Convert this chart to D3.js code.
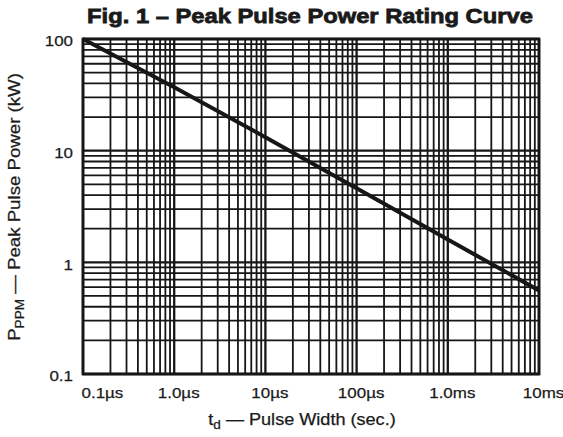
<!DOCTYPE html>
<html>
<head>
<meta charset="utf-8">
<script src="https://cdn.jsdelivr.net/npm/d3@7"></script>
<style>
  body { margin: 0; background: #fff; }
  text { font-family: 'Liberation Sans', Arial, sans-serif; fill: #1a1a1a; stroke: #1a1a1a; stroke-width: 0.25px; }
</style>
</head>
<body>
<div class="chart"></div>
<script>
// Pulse width (seconds) and rated peak pulse power (kW)
const pulseWidth = [1e-7, 1e-6, 1e-5, 1e-4, 1e-3, 1e-2];
const peakPower = [100, 37, 13.2, 4.6, 1.6, 0.56];

// Axis tick positions and their printed labels
const xTickValues = [1e-7, 1e-6, 1e-5, 1e-4, 1e-3, 1e-2];
const xTickLabels = ['0.1µs', '1.0µs', '10µs', '100µs', '1.0ms', '10ms'];
const yTickValues = [0.1, 1, 10, 100];
const yTickLabels = ['0.1', '1', '10', '100'];

const width = 563, height = 437;
const margin = { top: 39, right: 24, bottom: 63, left: 83 };
const textStretch = 1.13; // the printed typeface runs wider than Liberation Sans

const svg = d3.select('.chart')
  .append('svg')
  .attr('width', width)
  .attr('height', height);

const xScale = d3.scaleLog()
  .domain([1e-7, 1e-2])
  .range([margin.left, width - margin.right]);

const yScale = d3.scaleLog()
  .domain([0.1, 100])
  .range([height - margin.bottom, margin.top]);

// Title
svg.append('text')
  .attr('x', 310)
  .attr('y', 23)
  .attr('text-anchor', 'middle')
  .style('font-size', '21px')
  .style('font-weight', 'bold')
  .style('stroke-width', '0.8px')
  .text('Fig. 1 – Peak Pulse Power Rating Curve');

// Grid: 1..9 in every decade
const isDecade = d => Math.abs(Math.log10(d) - Math.round(Math.log10(d))) < 1e-6;
const grid = svg.append('g').attr('stroke', '#161616');

grid.selectAll('.vline')
  .data(xScale.ticks())
  .enter().append('line')
  .attr('class', 'vline')
  .attr('x1', d => xScale(d))
  .attr('x2', d => xScale(d))
  .attr('y1', yScale.range()[0])
  .attr('y2', yScale.range()[1])
  .attr('stroke-width', d => isDecade(d) ? 2.3 : 1.8);

grid.selectAll('.hline')
  .data(yScale.ticks())
  .enter().append('line')
  .attr('class', 'hline')
  .attr('x1', xScale.range()[0])
  .attr('x2', xScale.range()[1])
  .attr('y1', d => yScale(d))
  .attr('y2', d => yScale(d))
  .attr('stroke-width', d => isDecade(d) ? 2.3 : 1.8);

// Frame
svg.append('rect')
  .attr('x', xScale.range()[0])
  .attr('y', yScale.range()[1])
  .attr('width', xScale.range()[1] - xScale.range()[0])
  .attr('height', yScale.range()[0] - yScale.range()[1])
  .attr('fill', 'none')
  .attr('stroke', '#161616')
  .attr('stroke-width', 2.8);

// Rating curve
const line = d3.line()
  .x((d, i) => xScale(pulseWidth[i]))
  .y(d => yScale(d));

svg.append('path')
  .datum(peakPower)
  .attr('d', line)
  .attr('fill', 'none')
  .attr('stroke', '#161616')
  .attr('stroke-width', 4);

// Axes (labels only, the frame draws the lines)
const xAxis = svg.append('g')
  .attr('transform', 'translate(0,' + yScale.range()[0] + ')')
  .call(d3.axisBottom(xScale)
    .tickValues(xTickValues)
    .tickFormat((d, i) => xTickLabels[i])
    .tickSize(0)
    .tickPadding(13));
xAxis.select('.domain').remove();
xAxis.selectAll('text')
  .style('font-size', '15px')
  .style('font-family', "'Liberation Sans', Arial, sans-serif")
  .attr('fill', '#1a1a1a')
  .attr('dx', (d, i) => i === 0 ? -2 : 4)
  .attr('text-anchor', (d, i) => i === 0 ? 'start' : 'middle');

const yAxis = svg.append('g')
  .attr('transform', 'translate(' + xScale.range()[0] + ',0)')
  .call(d3.axisLeft(yScale)
    .tickValues(yTickValues)
    .tickFormat((d, i) => yTickLabels[i])
    .tickSize(0)
    .tickPadding(10));
yAxis.select('.domain').remove();
yAxis.selectAll('text')
  .style('font-size', '15px')
  .style('font-family', "'Liberation Sans', Arial, sans-serif")
  .attr('fill', '#1a1a1a')
  .attr('dy', '0.45em');

// Axis titles
const xTitle = svg.append('text')
  .attr('x', 302)
  .attr('y', 425)
  .attr('text-anchor', 'middle')
  .style('font-size', '16px');
xTitle.append('tspan').text('t');
xTitle.append('tspan').attr('dy', 4).style('font-size', '12px').text('d');
xTitle.append('tspan').attr('dy', -4).text(' — Pulse Width (sec.)');

const yTitle = svg.append('text')
  .attr('transform', 'translate(20,207) rotate(-90)')
  .attr('text-anchor', 'middle')
  .style('font-size', '16.5px');
yTitle.append('tspan').text('P');
yTitle.append('tspan').attr('dy', 4).style('font-size', '12px').text('PPM');
yTitle.append('tspan').attr('dy', -4).text(' — Peak Pulse Power (kW)');

// Widen every label to the printed typeface's run length
svg.selectAll('text').each(function () {
  const len = this.getComputedTextLength();
  d3.select(this)
    .attr('textLength', len * textStretch)
    .attr('lengthAdjust', 'spacingAndGlyphs');
});
</script>
</body>
</html>
